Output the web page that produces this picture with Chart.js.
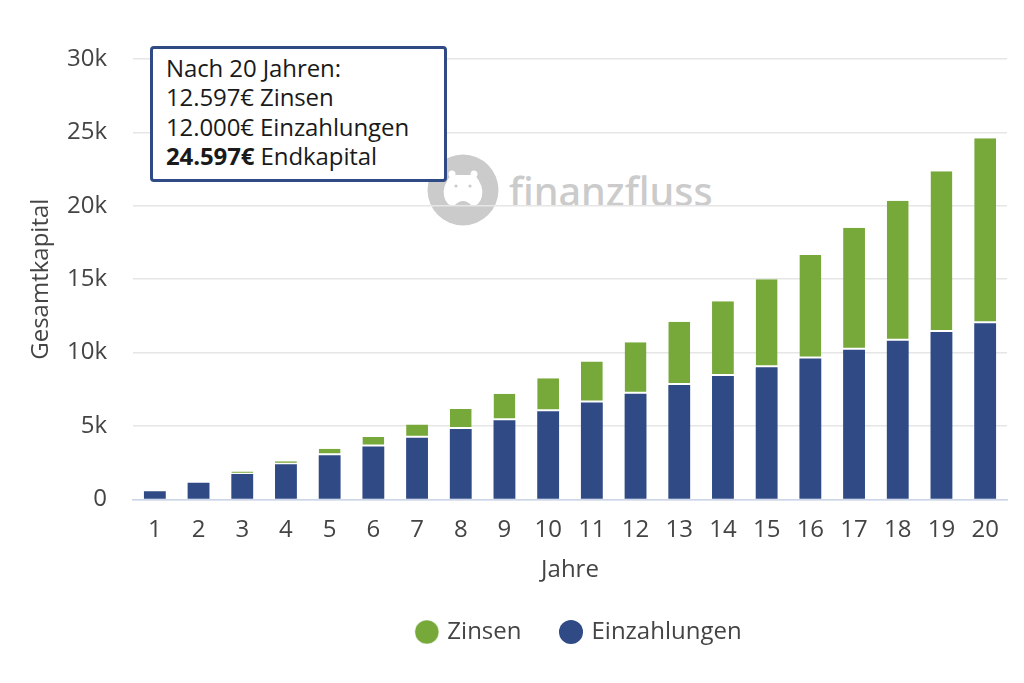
<!DOCTYPE html>
<html>
<head>
<meta charset="utf-8">
<title>Zinseszins</title>
<script src="https://cdn.jsdelivr.net/npm/chart.js@4"></script>
<style>
  html, body { margin: 0; padding: 0; background: #fff; }
  #wrap { position: relative; width: 1024px; height: 683px; overflow: hidden; font-family: "Open Sans", sans-serif; }
  #chart { position: absolute; left: 0; top: 0; }
  #watermark { position: absolute; left: 427px; top: 154px; width: 72px; height: 72px; }
  #wm-text { position: absolute; left: 509px; top: 166px; font-size: 39.5px; line-height: 50px; color: #cbcbcb; font-family: "Noto Sans", sans-serif; font-weight: 500; }
  #infobox { position: absolute; left: 150px; top: 46px; width: 297px; height: 136px; box-sizing: border-box; background: #fff; border: 3px solid #2f4a85; border-radius: 4px; padding: 4px 0 0 13px; font-size: 24px; line-height: 29.4px; letter-spacing: -0.1px; color: #1a1a1a; white-space: nowrap; }
</style>
</head>
<body>
<div id="wrap">
  <svg id="watermark" viewBox="0 0 72 72">
    <circle cx="36" cy="36" r="35.5" fill="#cbcbcb"/>
    <circle cx="25" cy="20" r="3.5" fill="#fff"/>
    <circle cx="47" cy="20" r="3.5" fill="#fff"/>
    <path d="M24 21 H48 Q57 32 55 42 Q53 52 44 52 H28 Q19 52 17 42 Q15 32 24 21 Z" fill="#fff"/>
    <circle cx="29" cy="32" r="1.6" fill="#cbcbcb"/>
    <circle cx="43" cy="32" r="1.6" fill="#cbcbcb"/>
    <path d="M27 52 Q36 42 45 52 Z" fill="#cbcbcb"/>
  </svg>
  <div id="wm-text">finanzfluss</div>
  <canvas id="chart" width="1024" height="683"></canvas>
  <div id="infobox">
    Nach 20 Jahren:<br>
    12.597€ Zinsen<br>
    12.000€ Einzahlungen<br>
    <b>24.597€</b> Endkapital
  </div>
</div>
<script>
// Werte
const jahre = ['1','2','3','4','5','6','7','8','9','10','11','12','13','14','15','16','17','18','19','20'];
const zinsen = [0,0,170,200,450,650,900,1350,1800,2250,2800,3500,4300,5100,6000,7050,8300,9550,10950,12597];
const einzahlungen = [550,1130,1730,2400,3000,3600,4200,4800,5400,6000,6600,7200,7800,8400,9000,9600,10200,10800,11400,12000];
const yTicks = {0:'0',5000:'5k',10000:'10k',15000:'15k',20000:'20k',25000:'25k',30000:'30k'};

const GRUEN = '#76a83a';
const BLAU = '#2f4a85';
const TEXT = '#444';
const FONT = '"Open Sans", sans-serif';

// Legende sitzt im Original etwas rechts von der Plotmitte
const legendShift = {
  id: 'legendShift',
  afterLayout: chart => { chart.legend.left += 20; }
};

new Chart(document.getElementById('chart').getContext('2d'), {
  type: 'bar',
  plugins: [legendShift],
  data: {
    labels: jahre,
    datasets: [
      {label:'Einzahlungen', data:einzahlungen, backgroundColor:BLAU, borderWidth:0, barPercentage:0.5, categoryPercentage:1},
      {label:'Zinsen', data:zinsen, backgroundColor:GRUEN, borderColor:'#fff', borderWidth:{bottom:2}, borderSkipped:false, barPercentage:0.5, categoryPercentage:1}
    ]
  },
  options: {
    responsive: false,
    animation: false,
    layout: {padding:{left:27, right:17, top:59, bottom:29}},
    plugins: {
      tooltip: {enabled:false},
      legend: {
        position: 'bottom',
        fullSize: false,
        reverse: true,
        labels: {usePointStyle:true, pointStyle:'circle', boxWidth:17, boxHeight:17, padding:41, color:TEXT, font:{family:FONT, size:24}}
      }
    },
    scales: {
      x: {
        stacked: true,
        grid: {display:false},
        border: {color:'#ccd6eb', width:1.5},
        ticks: {color:TEXT, font:{family:FONT, size:24}, padding:8, maxRotation:0, autoSkip:false},
        title: {display:true, text:'Jahre', color:TEXT, font:{family:FONT, size:24}, padding:{top:4, bottom:-6}}
      },
      y: {
        stacked: true,
        min: 0,
        max: 30000,
        afterBuildTicks: s => { s.ticks = Object.keys(yTicks).map(v => ({value:+v})); },
        afterFit: s => { s.width = 106; },
        grid: {color:'#e6e6e6', lineWidth:1.5, drawTicks:false},
        border: {display:false},
        ticks: {color:TEXT, font:{family:FONT, size:24}, padding:26, callback: v => yTicks[v]},
        title: {display:true, text:'Gesamtkapital', color:TEXT, font:{family:FONT, size:24}, padding:{top:0, bottom:6}}
      }
    }
  }
});
</script>
</body>
</html>
